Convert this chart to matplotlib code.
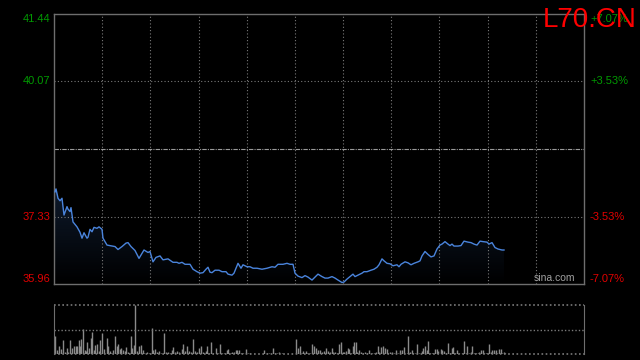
import numpy as np
import matplotlib
matplotlib.use("Agg")
import matplotlib.pyplot as plt

plt.rcParams['font.family'] = ['Liberation Sans', 'DejaVu Sans']

# price levels shown on the axes
prev_close = 38.70
price_ticks = [41.44, 40.07, 37.33, 35.96]
pct_ticks = ["+7.07%", "+3.53%", "-3.53%", "-7.07%"]

# intraday price (minute index, price)
t_price = [1, 2, 4, 6, 8, 10, 13, 14, 16, 17, 19, 23, 26, 28, 30, 33, 34, 36, 38, 40,
           43, 45, 48, 49, 53, 58, 61, 64, 68, 72, 74, 77, 81, 85, 90, 94, 96, 99, 102, 106,
           109, 114, 119, 123, 125, 128, 131, 136, 139, 143, 146, 149, 152, 154, 156, 158,
           161, 165, 168, 172, 174, 178, 180, 183, 184, 187, 189, 193, 196, 199, 203, 208,
           213, 218, 221, 224, 229, 233, 236, 239, 241, 244, 248, 251, 254, 258, 261, 264,
           268, 271, 274, 278, 281, 284, 288, 290, 293, 296, 299, 301, 304, 308, 310, 313,
           317, 320, 323, 325, 328, 330, 333, 336, 339, 343, 345, 347, 351, 354, 357, 360,
           364, 366, 368, 371, 374, 377, 380, 383, 386, 388, 391, 394, 396, 398, 400, 404,
           407, 410, 414, 417, 420, 423, 426, 429, 433, 435, 438, 441, 444, 448, 450]
price = [37.83, 37.89, 37.70, 37.65, 37.70, 37.36, 37.53, 37.48, 37.43, 37.51, 37.22, 37.12,
         37.01, 36.89, 37.00, 36.89, 36.91, 37.07, 37.02, 37.11, 37.09, 37.12, 37.07, 36.89,
         36.75, 36.73, 36.72, 36.66, 36.72, 36.79, 36.80, 36.72, 36.64, 36.48, 36.65, 36.60,
         36.62, 36.41, 36.50, 36.53, 36.45, 36.47, 36.40, 36.40, 36.38, 36.40, 36.36, 36.36,
         36.26, 36.21, 36.18, 36.19, 36.26, 36.30, 36.20, 36.19, 36.24, 36.24, 36.21, 36.21,
         36.16, 36.14, 36.18, 36.33, 36.38, 36.28, 36.35, 36.31, 36.31, 36.28, 36.28, 36.26,
         36.28, 36.31, 36.30, 36.36, 36.36, 36.38, 36.36, 36.36, 36.18, 36.12, 36.09, 36.13,
         36.10, 36.04, 36.10, 36.16, 36.11, 36.08, 36.08, 36.11, 36.08, 36.04, 35.99, 36.00,
         36.06, 36.11, 36.16, 36.11, 36.14, 36.18, 36.21, 36.21, 36.24, 36.26, 36.30, 36.35,
         36.47, 36.43, 36.38, 36.37, 36.33, 36.35, 36.31, 36.36, 36.41, 36.39, 36.35, 36.38,
         36.41, 36.43, 36.53, 36.62, 36.56, 36.51, 36.53, 36.67, 36.75, 36.77, 36.82, 36.77,
         36.74, 36.77, 36.73, 36.73, 36.74, 36.83, 36.81, 36.80, 36.77, 36.75, 36.83, 36.82,
         36.81, 36.77, 36.80, 36.70, 36.67, 36.65, 36.65]

# volume (minute index, % of max)
t_vol = [1, 3, 5, 7, 9, 11, 13, 14, 16, 18, 20, 22, 23, 25, 26, 27, 29, 31, 32, 33, 35, 37,
         38, 40, 41, 43, 45, 46, 48, 50, 53, 54, 56, 57, 59, 61, 63, 64, 66, 67, 69, 71, 72,
         74, 77, 78, 80, 81, 83, 85, 87, 89, 90, 93, 95, 98, 99, 101, 103, 105, 107, 110,
         112, 114, 116, 118, 119, 121, 123, 125, 128, 129, 131, 133, 135, 137, 139, 141,
         143, 145, 147, 149, 152, 153, 155, 157, 159, 162, 164, 166, 168, 170, 173, 174,
         177, 178, 180, 182, 183, 185, 187, 189, 192, 194, 196, 199, 203, 206, 210, 213,
         215, 219, 221, 223, 225, 228, 231, 234, 238, 242, 244, 246, 248, 249, 252, 253,
         256, 258, 260, 262, 264, 266, 268, 270, 272, 274, 276, 278, 279, 281, 283, 285,
         287, 289, 290, 292, 294, 295, 297, 299, 300, 302, 303, 305, 307, 309, 311, 313,
         315, 318, 320, 322, 324, 325, 327, 329, 331, 333, 334, 336, 338, 340, 342, 344,
         346, 348, 350, 353, 354, 356, 358, 359, 361, 363, 365, 368, 369, 371, 373, 374,
         376, 378, 379, 381, 383, 384, 387, 388, 390, 392, 394, 396, 398, 399, 401, 403,
         405, 408, 410, 412, 413, 415, 417, 418, 420, 422, 424, 425, 427, 429, 430, 432,
         433, 435, 437, 438, 440, 442, 443, 445, 447, 448, 450, 451]
vol = [37, 9, 17, 10, 29, 5, 12, 5, 29, 12, 17, 16, 17, 29, 17, 30, 51, 9, 7, 24, 12, 32,
       45, 9, 19, 21, 7, 29, 43, 10, 32, 16, 7, 3, 9, 37, 16, 21, 10, 12, 9, 7, 14,
       4, 36, 12, 19, 100, 7, 17, 19, 9, 3, 4, 2, 53, 9, 10, 5, 7, 3, 43,
       5, 4, 2, 9, 14, 4, 7, 5, 10, 21, 7, 16, 7, 4, 30, 7,
       4, 12, 17, 5, 7, 17, 3, 24, 3, 12, 2, 21, 3, 3, 9, 10,
       3, 5, 5, 9, 9, 9, 3, 3, 10, 3, 2, 1, 1, 1, 9, 3,
       2, 12, 2, 2, 5, 2, 1, 1, 1, 30, 12, 16, 3, 7, 7, 2,
       3, 21, 17, 12, 9, 9, 5, 7, 12, 7, 4, 12, 5, 5, 2, 21,
       24, 5, 5, 7, 12, 10, 3, 17, 24, 24, 5, 9, 4, 2, 5, 3,
       9, 3, 3, 5, 16, 5, 14, 16, 12, 10, 3, 5, 5, 3, 9, 3,
       9, 9, 14, 2, 36, 5, 9, 3, 3, 21, 3, 7, 12, 16, 9, 26,
       3, 2, 3, 10, 10, 7, 10, 9, 7, 2, 22, 3, 12, 14, 3, 9,
       2, 2, 27, 3, 16, 3, 5, 17, 3, 2, 3, 5, 9, 9, 3, 3,
       2, 21, 5, 9, 9, 9, 3, 10, 10, 3, 5, 3]

n_minutes = 530
green = '#009a00'
red = '#e00000'
grid_c = '#7a7a7a'

fig = plt.figure(figsize=(6.4, 3.6), dpi=100, facecolor='black')
ax = fig.add_axes([54/640, 1-284/360, 530/640, 270/360], facecolor='black')
axv = fig.add_axes([54/640, 1-354/360, 530/640, 49/360], facecolor='black')

ymin, ymax = price_ticks[-1], price_ticks[0]
ax.set_xlim(0, n_minutes)
ax.set_ylim(ymin, ymax)

# gradient fill under the price line
grad = np.linspace(0, 1, 256).reshape(-1, 1)
img = ax.imshow(grad, extent=[0, n_minutes, ymin, max(price)], origin='lower',
                aspect='auto', cmap=matplotlib.colors.LinearSegmentedColormap.from_list(
                    'g', ['#000000', '#0e1a2c']), zorder=1)
poly = ax.fill_between(t_price, price, ymin, color='none', zorder=1)
img.set_clip_path(poly.get_paths()[0], transform=ax.transData)

ax.plot(t_price, price, color='#4a84dc', lw=1.0, zorder=3)

# grid
for i in range(1, 11):
    ax.axvline(n_minutes * i / 11, color=grid_c, lw=0.8, ls=(0, (1, 2)), zorder=2)
for p in price_ticks[1:3]:
    ax.axhline(p, color=grid_c, lw=0.8, ls=(0, (1, 2)), zorder=2)
ax.axhline(prev_close, color='#9a9a9a', lw=0.8, ls=(0, (4, 1, 1, 1)), zorder=2)

for s in ax.spines.values():
    s.set_color('#6e6e6e')
    s.set_linewidth(1)
ax.set_xticks([])
ax.set_yticks([])

for i, (p, lab) in enumerate(zip(price_ticks, pct_ticks)):
    c = green if p > prev_close else red
    va = 'top' if i == 0 else ('bottom' if i == len(price_ticks) - 1 else 'center')
    ax.text(-4, p, f"{p:.2f}", color=c, fontsize=8, ha='right', va=va, clip_on=False)
    ax.text(n_minutes + 6, p, lab, color=c, fontsize=8, ha='left', va=va, clip_on=False)

ax.text(500, 35.985, "sina.com", color='#a0a0a0', fontsize=7.5, ha='center', va='bottom')
fig.text(637/640, 1-27/360, "L70.CN", color='#ff0000', fontsize=20, ha='right',
         va='baseline')

# volume panel
axv.set_xlim(0, n_minutes)
axv.set_ylim(0, max(vol))
axv.vlines(t_vol, 0, vol, color='#8a8a8a', lw=1.0)
axv.axhline(max(vol) / 2, color=grid_c, lw=1, ls=(0, (1, 1.5)))
axv.axhline(max(vol), color=grid_c, lw=1.2, ls=(0, (1, 1.5)), clip_on=False)
axv.axhline(0, color=grid_c, lw=1.2, ls=(0, (1, 1.5)), clip_on=False)
axv.spines['top'].set_visible(False)
axv.spines['bottom'].set_visible(False)
for s in ['left', 'right']:
    axv.spines[s].set_color('#6e6e6e')
axv.set_xticks([])
axv.set_yticks([])

fig.savefig('out.png', dpi=100, facecolor='black')
